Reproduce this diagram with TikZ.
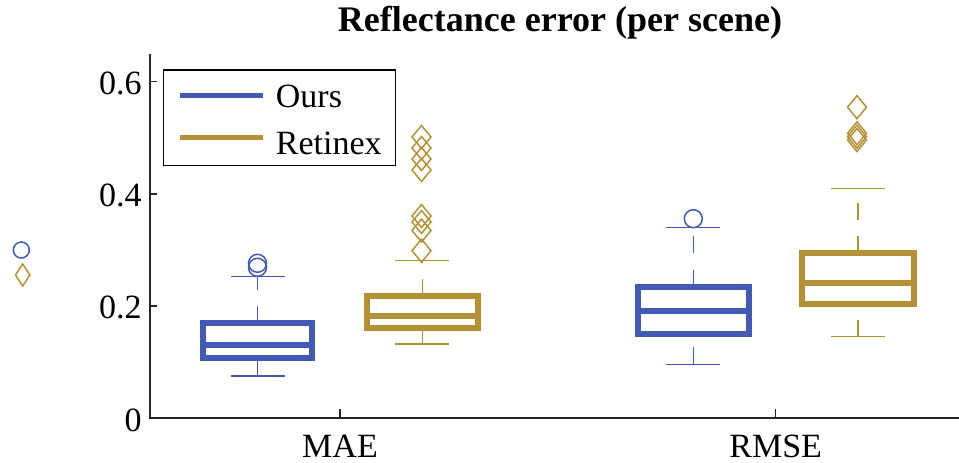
\documentclass[tikz,border=0pt]{standalone}
\usepackage{fontspec}
\setmainfont{Liberation Serif}
\definecolor{oursblue}{RGB}{66,89,181}
\definecolor{retgold}{RGB}{180,145,52}
\tikzset{
  boxln/.style={line width=6pt, line join=miter},
  thinln/.style={line width=1.5pt},
  whisk/.style={thinln, dash pattern=on 17pt off 16.5pt},
  axisln/.style={line width=1.5pt, black!85},
  ticklab/.style={anchor=east, inner sep=0pt, font=\fontsize{34}{40}\selectfont},
  catlab/.style={anchor=base, inner sep=0pt, font=\fontsize{34}{40}\selectfont},
  leglab/.style={anchor=base west, inner sep=0pt, font=\fontsize{34}{40}\selectfont},
}
\newcommand\gdia[3]{\draw[thinln,#3] (#1,#2-11.5) -- (#1+9.5,#2) -- (#1,#2+11.5) -- (#1-9.5,#2) -- cycle;}
% #1 x center, #2 halfwidth box, #3 q1(bottom y), #4 q3(top y), #5 median, #6 lower cap, #7 upper cap, #8 color
\newcommand\bxplt[8]{%
  \draw[whisk,#8] (#1,#6) -- (#1,#3);
  \draw[whisk,#8] (#1,#4) -- (#1,#7);
  \draw[thinln,#8] (#1-27,#6) -- (#1+27,#6);
  \draw[thinln,#8] (#1-27,#7) -- (#1+27,#7);
  \draw[boxln,#8] (#1-#2,#3) rectangle (#1+#2,#4);
  \draw[boxln,#8] (#1-#2,#5) -- (#1+#2,#5);
}
\begin{document}
\begin{tikzpicture}[x=1pt,y=-1pt]
\useasboundingbox (0,0) rectangle (959,463);
% title
\node[anchor=base, inner sep=0pt, font=\fontsize{36}{42}\selectfont\bfseries] (title) at (560,31) {Reflectance error (per scene)};
% axes
\draw[axisln] (150,54) -- (150,418) -- (959,418);
\foreach \yy/\lab/\nm in {418/0/t0, 305.9/0.2/t2, 193.8/0.4/t4, 81.7/0.6/t6}{
  \draw[axisln] (150,\yy) -- (157,\yy);
  \node[ticklab] (\nm) at (141.7,\yy+2) {\lab};
}
\draw[axisln] (340,418) -- (340,409);
\draw[axisln] (775.7,418) -- (775.7,409);
\node[catlab] (mae) at (340,457.5) {MAE};
\node[catlab] (rmse) at (775.7,457.5) {RMSE};
% boxes
\bxplt{257.5}{54.5}{357.5}{323}{345.3}{376}{276.7}{oursblue}
\bxplt{422.3}{55.6}{328.3}{296}{316}{344}{260.3}{retgold}
\bxplt{693.3}{55.6}{334}{286.7}{310.7}{364.3}{227.7}{oursblue}
\bxplt{858}{56}{304}{253.3}{283.3}{336.7}{188.3}{retgold}
% outliers
\draw[thinln,oursblue] (257.5,263.3) circle[radius=9pt];
\draw[thinln,oursblue] (257.5,267.3) circle[radius=9pt];
\draw[thinln,oursblue] (693.3,218.7) circle[radius=9pt];
\foreach \yy in {137,148,159,170,216,222,230.5,250.7}{\gdia{421.5}{\yy}{retgold}}
\foreach \yy in {107.2,133.3,136.7,140}{\gdia{857}{\yy}{retgold}}
% stray markers at left
\draw[thinln,oursblue] (21.3,250) circle[radius=8pt];
\draw[thinln,retgold] (22.7,264) -- (29.9,275) -- (22.7,286) -- (15.5,275) -- cycle;
% legend
\draw[line width=1.5pt, fill=white] (163.3,70) rectangle (395.7,165.7);
\draw[line width=5pt, oursblue] (180,95.7) -- (263.3,95.7);
\draw[line width=5pt, retgold] (180,137.7) -- (263.3,137.7);
\node[leglab] (lours) at (275.7,107.5) {Ours};
\node[leglab] (lret) at (275.7,154) {Retinex};
\end{tikzpicture}
\end{document}
